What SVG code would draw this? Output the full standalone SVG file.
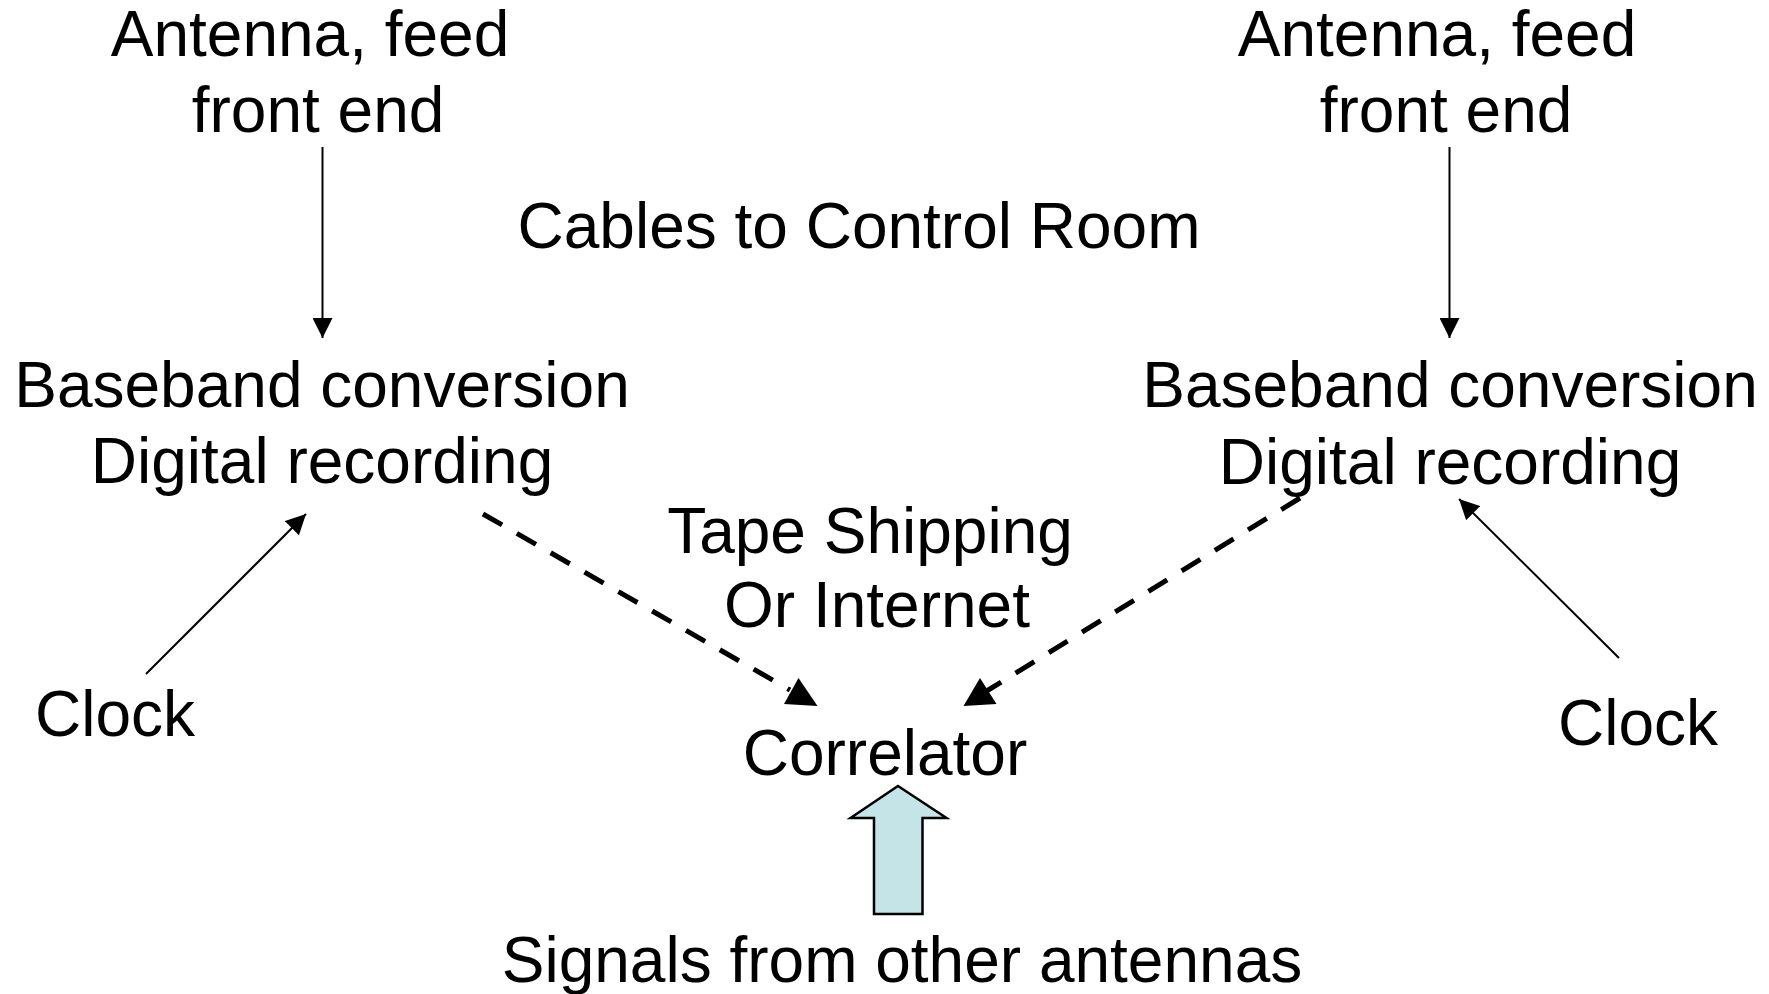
<svg xmlns="http://www.w3.org/2000/svg" width="1769" height="994" viewBox="0 0 1769 994">
  <style>
    .lbl { font-family: "Liberation Sans", Arial, sans-serif; font-size: 64px; fill: #000; text-anchor: middle; }
    .thin { stroke: #000; stroke-width: 2; fill: none; }
    .dash { stroke: #000; stroke-width: 5; fill: none; stroke-dasharray: 22 17; }
    .head { fill: #000; stroke: none; }
    .block { fill: #c5e4e8; stroke: #000; stroke-width: 2.5; stroke-linejoin: miter; }
  </style>
  <defs>
    <marker id="tri" viewBox="0 0 10 10" refX="10" refY="5" markerUnits="userSpaceOnUse" markerWidth="20" markerHeight="20" orient="auto">
      <path d="M0,0 L10,5 L0,10 Z" fill="#000"/>
    </marker>
  </defs>
  <rect width="1769" height="994" fill="#fff"/>

  <g id="antenna-left">
    <text class="lbl" x="310" y="56">Antenna, feed</text>
    <text class="lbl" x="318" y="132">front end</text>
  </g>
  <g id="antenna-right">
    <text class="lbl" x="1437" y="56">Antenna, feed</text>
    <text class="lbl" x="1446" y="132">front end</text>
  </g>
  <g id="cables-label">
    <text class="lbl" x="859" y="248">Cables to Control Room</text>
  </g>
  <g id="recorder-left">
    <text class="lbl" x="322" y="407">Baseband conversion</text>
    <text class="lbl" x="322" y="483">Digital recording</text>
  </g>
  <g id="recorder-right">
    <text class="lbl" x="1450" y="407">Baseband conversion</text>
    <text class="lbl" x="1450" y="484">Digital recording</text>
  </g>
  <g id="shipping-label">
    <text class="lbl" x="870" y="553">Tape Shipping</text>
    <text class="lbl" x="877" y="627">Or Internet</text>
  </g>
  <g id="clock-left">
    <text class="lbl" x="115" y="736">Clock</text>
  </g>
  <g id="clock-right">
    <text class="lbl" x="1638" y="745">Clock</text>
  </g>
  <g id="correlator">
    <text class="lbl" x="885" y="775">Correlator</text>
  </g>
  <g id="other-antennas">
    <polygon class="block" points="898,786 946.5,818 922.5,818 922.5,914 874,914 874,818 850.5,818"/>
    <text class="lbl" x="902" y="982">Signals from other antennas</text>
  </g>

  <g id="connectors">
    <!-- antenna to recorder -->
    <line class="thin" x1="322.5" y1="147" x2="322.5" y2="338" marker-end="url(#tri)"/>
    <line class="thin" x1="1449.5" y1="147" x2="1449.5" y2="338" marker-end="url(#tri)"/>
    <!-- clocks into recorders -->
    <line class="thin" x1="146" y1="674" x2="306" y2="514" marker-end="url(#tri)"/>
    <line class="thin" x1="1619" y1="658" x2="1459" y2="499" marker-end="url(#tri)"/>
    <!-- recorded data to correlator -->
    <line class="dash" x1="483" y1="514" x2="790" y2="690"/>
    <polygon class="head" points="798.5,678 817.5,706 784,704"/>
    <line class="dash" x1="1300" y1="498" x2="985" y2="692"/>
    <polygon class="head" points="980,678 996.5,704 963.5,706"/>
  </g>
</svg>
